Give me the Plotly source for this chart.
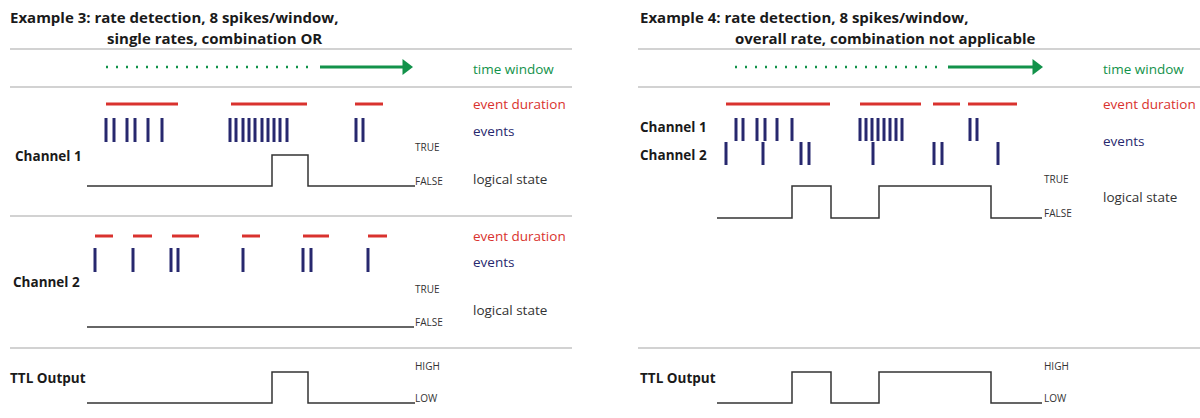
import plotly.graph_objects as go

# ---------------- data (time positions along the diagram's time axis) ----------------
# Example 3 – channel 1
ex3_ch1_events = [106, 114, 127, 135, 148, 162,
                  230, 236, 243, 249, 255, 262, 268, 274, 280, 287,
                  356, 363]
ex3_ch1_durations = [(106, 178), (231, 307), (355, 383)]
ex3_ch1_state_t = [87, 272, 308, 415]
ex3_ch1_state = [0, 1, 0, 0]

# Example 3 – channel 2
ex3_ch2_events = [95, 133, 171, 178, 243, 303, 311, 368]
ex3_ch2_durations = [(95, 113), (133, 152), (172, 199), (242, 260), (303, 329), (368, 387)]
ex3_ch2_state_t = [87, 414]
ex3_ch2_state = [0, 0]

# Example 3 – TTL output
ex3_ttl_t = [87, 272, 308, 415]
ex3_ttl = [0, 1, 0, 0]

# Example 4
ex4_ch1_events = [736, 743, 757, 765, 777, 792,
                  860, 866, 872, 878, 884, 890, 896, 902,
                  970, 977]
ex4_ch2_events = [726, 763, 801, 809, 873, 934, 942, 998]
ex4_durations = [(726, 830), (860, 921), (933, 960), (968, 1017)]
ex4_state_t = [717, 792, 831, 879, 991, 1042]
ex4_state = [0, 1, 0, 1, 0, 0]
ex4_ttl_t = [717, 792, 831, 879, 991, 1042]
ex4_ttl = [0, 1, 0, 1, 0, 0]

# time-window arrows (dotted start, solid start, arrow tip)
ex3_window = (106, 320, 412)
ex4_window = (735, 948, 1042)

titles = {
    "ex3_1": "Example 3: rate detection, 8 spikes/window,",
    "ex3_2": "single rates, combination OR",
    "ex4_1": "Example 4: rate detection, 8 spikes/window,",
    "ex4_2": "overall rate, combination not applicable",
}

# ---------------- styles ----------------
RED = "#d9322e"
BLUE = "#27286e"
GREEN = "#12924a"
GRAY = "#a6a6a6"
DARK = "#333333"
FONT = "Open Sans"
TITLE_SIZE = 15
LABEL_SIZE = 13.5
CHAN_SIZE = 13.5
SMALL_SIZE = 10

fig = go.Figure()


def hline(x0, x1, y, color=GRAY, width=1.2):
    fig.add_trace(go.Scatter(x=[x0, x1], y=[y, y], mode="lines",
                             line=dict(color=color, width=width), hoverinfo="skip"))


def events(ts, top, bottom):
    xs, ys = [], []
    for t in ts:
        xs += [t, t, None]
        ys += [top, bottom, None]
    fig.add_trace(go.Scatter(x=xs, y=ys, mode="lines",
                             line=dict(color=BLUE, width=3), hoverinfo="skip"))


def durations(segs, y):
    xs, ys = [], []
    for a, b in segs:
        xs += [a, b, None]
        ys += [y, y, None]
    fig.add_trace(go.Scatter(x=xs, y=ys, mode="lines",
                             line=dict(color=RED, width=3), hoverinfo="skip"))


def state(ts, vals, low, high):
    ys = [low - v * (low - high) for v in vals]
    fig.add_trace(go.Scatter(x=ts, y=ys, mode="lines", line_shape="hv",
                             line=dict(color=DARK, width=1.5), hoverinfo="skip"))


def window(w, y):
    d0, s0, tip = w
    fig.add_trace(go.Scatter(x=[d0, s0 - 4], y=[y, y], mode="lines",
                             line=dict(color=GREEN, width=2.5, dash="2px,8px"), hoverinfo="skip"))
    fig.add_trace(go.Scatter(x=[s0, tip - 8], y=[y, y], mode="lines",
                             line=dict(color=GREEN, width=3), hoverinfo="skip"))
    fig.add_trace(go.Scatter(x=[tip - 6], y=[y], mode="markers",
                             marker=dict(symbol="triangle-right", size=14, color=GREEN),
                             hoverinfo="skip"))


def text(x, y, s, size=LABEL_SIZE, color=DARK, bold=False):
    fig.add_annotation(x=x, y=y, text=f"<b>{s}</b>" if bold else s, showarrow=False,
                       xanchor="left", yanchor="middle",
                       font=dict(family=FONT, size=size, color=color))


# ---------------- Example 3 ----------------
text(8, 16.5, titles["ex3_1"], size=TITLE_SIZE, color="#1a1a1a", bold=True)
text(105, 37.5, titles["ex3_2"], size=TITLE_SIZE, color="#1a1a1a", bold=True)
for y in (49, 87, 216, 348):
    hline(10, 572, y)
window(ex3_window, 67)
text(471, 69, "time window", color=GREEN)

durations(ex3_ch1_durations, 104)
events(ex3_ch1_events, 118, 142)
state(ex3_ch1_state_t, ex3_ch1_state, 186, 155)
text(13, 156, "Channel 1", size=CHAN_SIZE, color="#1a1a1a", bold=True)
text(413, 147, "TRUE", size=SMALL_SIZE)
text(413, 181, "FALSE", size=SMALL_SIZE)
text(471, 104, "event duration", color=RED)
text(471, 131, "events", color=BLUE)
text(471, 179, "logical state")

durations(ex3_ch2_durations, 236)
events(ex3_ch2_events, 248, 272)
state(ex3_ch2_state_t, ex3_ch2_state, 327, 296)
text(11, 282, "Channel 2", size=CHAN_SIZE, color="#1a1a1a", bold=True)
text(413, 289, "TRUE", size=SMALL_SIZE)
text(413, 322, "FALSE", size=SMALL_SIZE)
text(471, 236, "event duration", color=RED)
text(471, 262, "events", color=BLUE)
text(471, 310, "logical state")

state(ex3_ttl_t, ex3_ttl, 403, 372)
text(8, 378, "TTL Output", size=CHAN_SIZE, color="#1a1a1a", bold=True)
text(413, 366, "HIGH", size=SMALL_SIZE)
text(413, 398, "LOW", size=SMALL_SIZE)

# ---------------- Example 4 ----------------
text(638, 16.5, titles["ex4_1"], size=TITLE_SIZE, color="#1a1a1a", bold=True)
text(733, 37.5, titles["ex4_2"], size=TITLE_SIZE, color="#1a1a1a", bold=True)
for y in (49, 87, 348):
    hline(638, 1200, y)
window(ex4_window, 67)
text(1101, 69, "time window", color=GREEN)

durations(ex4_durations, 104)
events(ex4_ch1_events, 118, 141)
events(ex4_ch2_events, 142, 165)
state(ex4_state_t, ex4_state, 218, 186)
text(638, 127, "Channel 1", size=CHAN_SIZE, color="#1a1a1a", bold=True)
text(638, 155, "Channel 2", size=CHAN_SIZE, color="#1a1a1a", bold=True)
text(1042, 179, "TRUE", size=SMALL_SIZE)
text(1042, 213, "FALSE", size=SMALL_SIZE)
text(1101, 104, "event duration", color=RED)
text(1101, 141, "events", color=BLUE)
text(1101, 197, "logical state")

state(ex4_ttl_t, ex4_ttl, 403, 372)
text(638, 378, "TTL Output", size=CHAN_SIZE, color="#1a1a1a", bold=True)
text(1042, 366, "HIGH", size=SMALL_SIZE)
text(1042, 398, "LOW", size=SMALL_SIZE)

fig.update_layout(
    width=1200, height=418,
    margin=dict(l=0, r=0, t=0, b=0),
    paper_bgcolor="white", plot_bgcolor="white",
    showlegend=False,
    xaxis=dict(range=[0, 1200], visible=False, fixedrange=True),
    yaxis=dict(range=[418, 0], visible=False, fixedrange=True),
)

fig.write_html(
    "out.html",
    config={"displayModeBar": False},
    post_script="document.body.style.margin='0';document.body.style.padding='0';document.body.style.overflow='hidden';",
)
